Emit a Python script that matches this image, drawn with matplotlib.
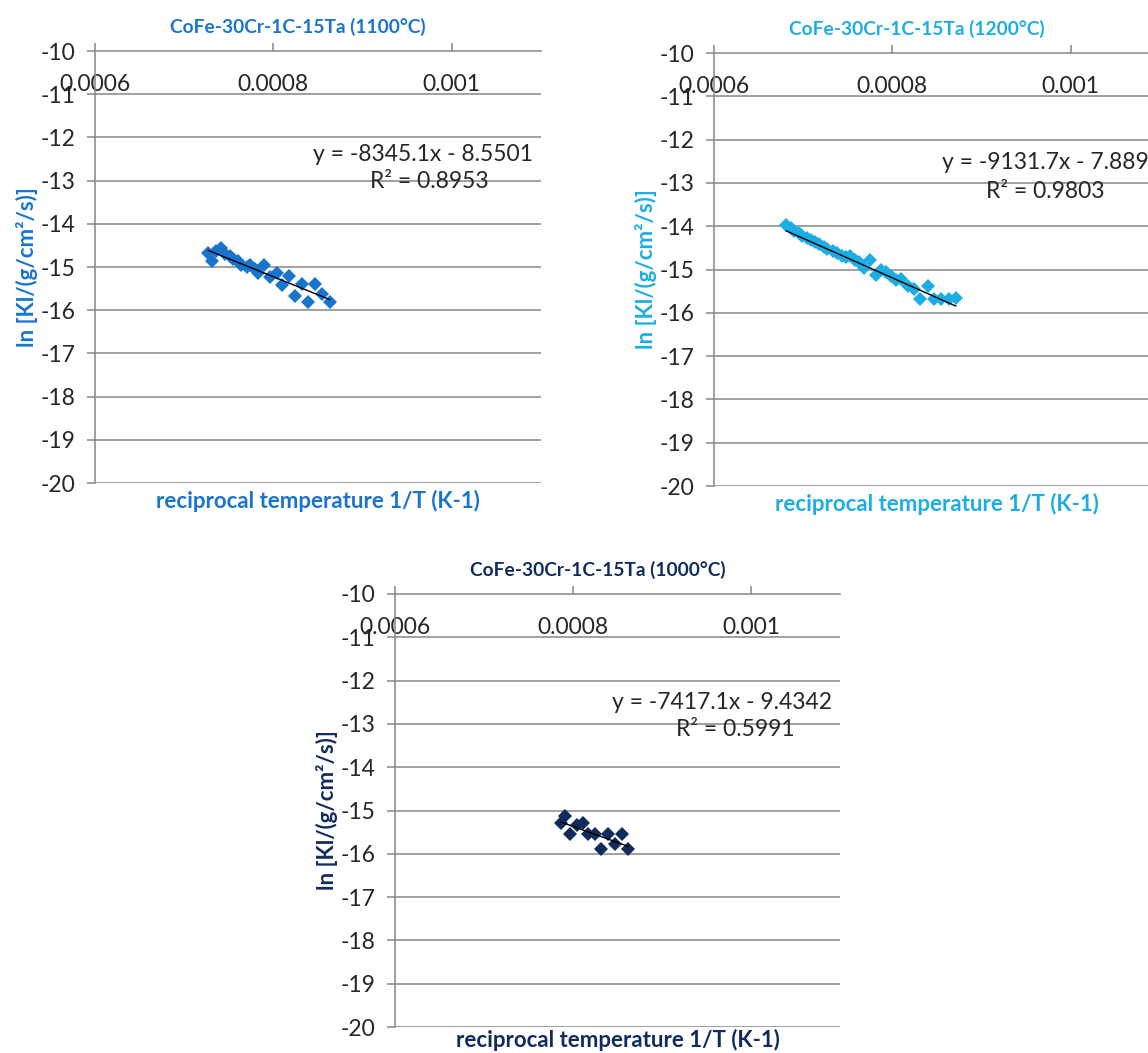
import matplotlib
matplotlib.use("Agg")
import matplotlib.pyplot as plt
import numpy as np

plt.rcParams['font.family'] = ['Lato', 'DejaVu Sans']

# 1100 C series
x_1100 = [0.000727, 0.000731, 0.000736, 0.000741, 0.000746, 0.000751, 0.000755, 0.000760,
          0.000764, 0.000770, 0.000774, 0.000779, 0.000783, 0.000789, 0.000796, 0.000804,
          0.000810, 0.000817, 0.000824, 0.000832, 0.000839, 0.000847, 0.000854, 0.000863]
y_1100 = [-14.67, -14.87, -14.62, -14.57, -14.70, -14.75, -14.81, -14.87,
          -14.96, -15.00, -14.95, -15.04, -15.15, -14.96, -15.23, -15.13,
          -15.42, -15.21, -15.66, -15.40, -15.80, -15.40, -15.63, -15.80]

# 1200 C series
x_1200 = [0.000681, 0.000686, 0.000690, 0.000695, 0.000699, 0.000704, 0.000709, 0.000713,
          0.000718, 0.000723, 0.000727, 0.000733, 0.000738, 0.000743, 0.000748, 0.000753,
          0.000758, 0.000763, 0.000768, 0.000775, 0.000782, 0.000787, 0.000793, 0.000798,
          0.000804, 0.000810, 0.000817, 0.000824, 0.000831, 0.000840, 0.000847, 0.000854,
          0.000863, 0.000871]
y_1200 = [-13.97, -14.05, -14.10, -14.15, -14.22, -14.28, -14.32, -14.37,
          -14.42, -14.47, -14.52, -14.58, -14.62, -14.68, -14.72, -14.69,
          -14.77, -14.83, -14.97, -14.79, -15.12, -15.02, -15.06, -15.15,
          -15.25, -15.22, -15.37, -15.46, -15.68, -15.38, -15.68, -15.68,
          -15.68, -15.66]

# 1000 C series
x_1000 = [0.000786, 0.000791, 0.000797, 0.000804, 0.000811, 0.000817,
          0.000825, 0.000832, 0.000839, 0.000847, 0.000855, 0.000862]
y_1000 = [-15.28, -15.13, -15.54, -15.34, -15.28, -15.54,
          -15.54, -15.90, -15.54, -15.77, -15.54, -15.90]

titles = ["CoFe-30Cr-1C-15Ta (1100°C)", "CoFe-30Cr-1C-15Ta (1200°C)", "CoFe-30Cr-1C-15Ta (1000°C)"]
slopes = [-8345.1, -9131.7, -7417.1]
intercepts = [-8.5501, -7.8892, -9.4342]
r2_values = [0.8953, 0.9803, 0.5991]
x_ticks = [0.0006, 0.0008, 0.001]
x_tick_labels = ["0.0006", "0.0008", "0.001"]
y_ticks = list(range(-20, -9))

# Settings
W, H = 1148, 1053
gray = "#868686"
txt = "#262626"
colors = ["#1874CD", "#1CADE4", "#102B5E"]


def px_rect(left, top, w, h):
    return [left / W, 1 - (top + h) / H, w / W, h / H]


def draw_chart(fig, rect, xs, ys, k, color, eq_pos, r2_pos, xlab_y=-0.015):
    ax = fig.add_axes(rect)
    ax.set_xlim(0.0006, 0.0011)
    ax.set_ylim(-20, -10)

    # gridlines
    for yv in y_ticks[:-1]:
        ax.axhline(yv, color=gray, lw=1.1, zorder=1)

    for s in ["right", "bottom"]:
        ax.spines[s].set_visible(False)
    for s in ["left", "top"]:
        ax.spines[s].set_color(gray)
        ax.spines[s].set_linewidth(1.1)

    ax.set_yticks(y_ticks)
    ax.set_yticklabels([str(v) for v in y_ticks])
    ax.set_xticks(x_ticks)
    ax.set_xticklabels(x_tick_labels)
    ax.tick_params(axis='y', direction='out', length=6, width=1.1, color=gray,
                   labelsize=16.5, labelcolor=txt, pad=8)
    ax.tick_params(axis='x', direction='out', length=6, width=1.1, color=gray,
                   top=True, bottom=False, labeltop=True, labelbottom=False,
                   labelsize=16.5, labelcolor=txt, pad=-38)

    ax.plot(xs, ys, linestyle='none', marker='D', markersize=7, color=color,
            markeredgewidth=0, zorder=3)
    xt = np.array([min(xs), max(xs)])
    ax.plot(xt, slopes[k] * xt + intercepts[k], color="black", lw=1, zorder=4)

    ax.text(eq_pos[0], eq_pos[1], "y = %.1fx - %.4f" % (slopes[k], -intercepts[k]),
            transform=ax.transAxes, ha='left', va='center', fontsize=16.5,
            color=txt, zorder=5)
    ax.text(r2_pos[0], r2_pos[1], "R² = %.4f" % r2_values[k],
            transform=ax.transAxes, ha='center', va='center', fontsize=16.5,
            color=txt, zorder=5)

    ax.text(0.455, 1.056, titles[k], transform=ax.transAxes, ha='center',
            va='center', fontsize=13.8, fontweight='bold', color=color)
    ax.set_xlabel("reciprocal temperature 1/T (K-1)", fontsize=16,
                  fontweight='bold', color=color)
    ax.xaxis.set_label_coords(0.5, xlab_y)
    ax.set_ylabel("ln [Kl/(g/cm²/s)]", fontsize=16, fontweight='bold', color=color)
    ax.yaxis.set_label_coords(-0.128, 0.5)
    return ax


def main():
    fig = plt.figure(figsize=(W / 100, H / 100), dpi=100)
    draw_chart(fig, px_rect(95, 51, 446, 432), x_1100, y_1100, 0, colors[0],
               (0.489, 0.76), (0.75, 0.697))
    draw_chart(fig, px_rect(714, 53, 446, 433), x_1200, y_1200, 1, colors[1],
               (0.511, 0.748), (0.742, 0.679))
    draw_chart(fig, px_rect(395, 594, 445, 433), x_1000, y_1000, 2, colors[2],
               (0.488, 0.749), (0.764, 0.688), xlab_y=-0.004)
    fig.savefig("out.png", dpi=100)


main()
